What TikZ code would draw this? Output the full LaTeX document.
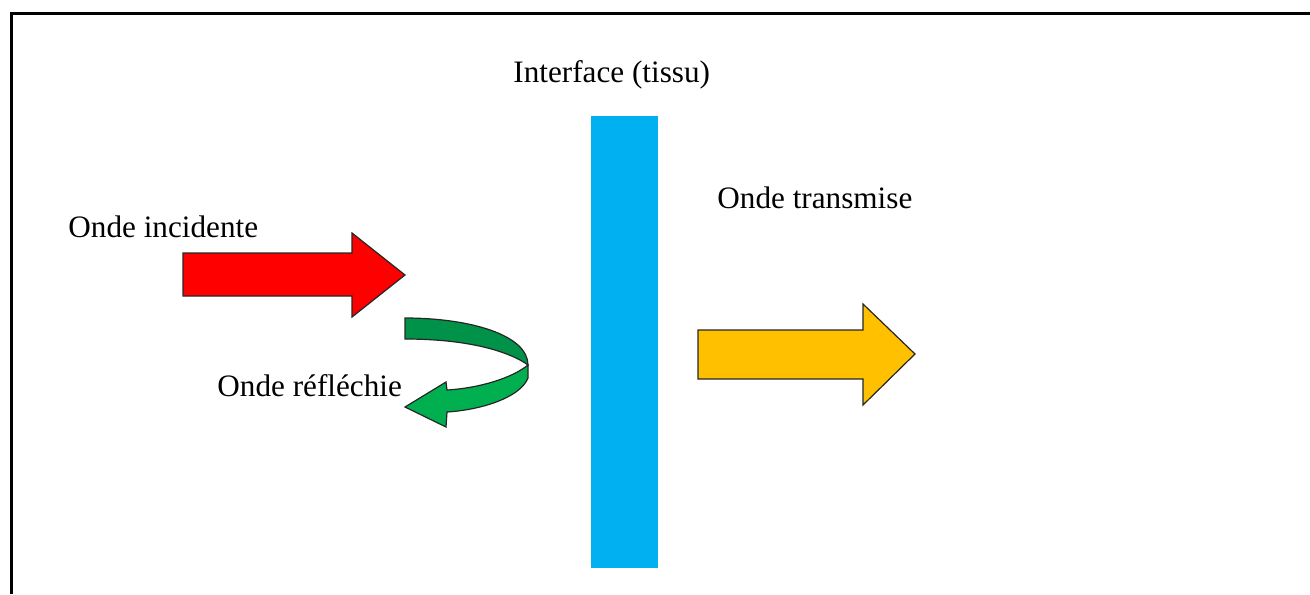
\documentclass[tikz,border=0pt]{standalone}
\usepackage{fontspec}
\setmainfont{Liberation Serif}
\usepackage{xcolor}
\definecolor{tissue}{RGB}{0,176,240}
\definecolor{incident}{RGB}{255,0,0}
\definecolor{transmis}{RGB}{255,192,0}
\definecolor{reflback}{RGB}{0,146,72}
\definecolor{reflfront}{RGB}{0,176,80}
\tikzset{
  wavetext/.style={anchor=base west, inner sep=0pt, font=\fontsize{15.6}{18}\selectfont},
  blockarrow/.style={draw=black!85, line width=0.6pt, line join=miter}
}

\begin{document}
\begin{tikzpicture}[x=0.5pt,y=-0.5pt]
\useasboundingbox (0,0) rectangle (1310,594);
%% frame
\draw[line width=1.5pt] (1310,13) -- (11,13) -- (11,594);
%% interface
\fill[tissue] (591,116) rectangle (658,568);
\node[wavetext] (interface) at (513,82) {Interface (tissu)};
%% incident wave
\filldraw[blockarrow, fill=incident] (183,253) -- (352,253) -- (352,233) -- (405,275)
  -- (352,317) -- (352,296) -- (183,296) -- cycle;
\node[wavetext] (incid) at (68,237) {Onde incidente};
%% transmitted wave
\filldraw[blockarrow, fill=transmis] (698,330) -- (863,330) -- (863,304) -- (915,354)
  -- (863,405) -- (863,379) -- (698,379) -- cycle;
\node[wavetext] (transm) at (717,208) {Onde transmise};
%% reflected wave
\filldraw[blockarrow, fill=reflback] (405,318) .. controls (470,318) and (528,335) .. (528,365)
  .. controls (510,352) and (470,339) .. (405,339) -- cycle;
\filldraw[blockarrow, fill=reflfront] (528,365) -- (528,378)
  .. controls (520,398) and (480,410) .. (447,412) -- (446,427) -- (405,407)
  -- (446,382) -- (447,390) .. controls (480,388) and (512,378) .. (528,365) -- cycle;
\node[wavetext] (refl) at (217,396) {Onde réfléchie};
\end{tikzpicture}
\end{document}
